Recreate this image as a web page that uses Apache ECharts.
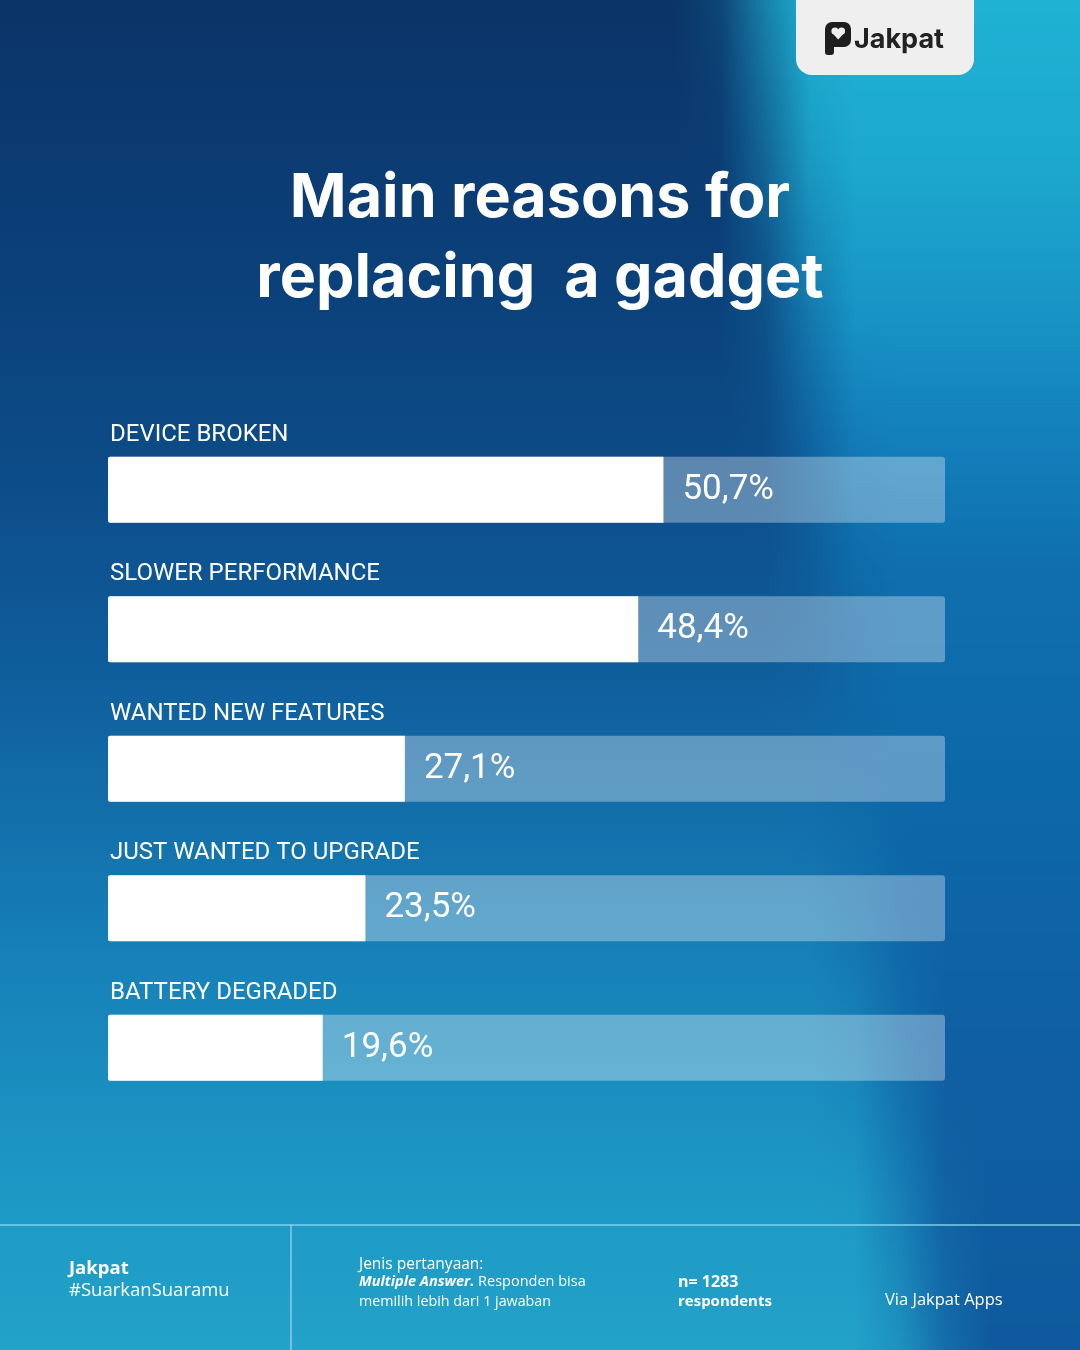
<!DOCTYPE html>
<html>
<head>
<meta charset="utf-8">
<script src="https://cdn.jsdelivr.net/npm/echarts@6/dist/echarts.min.js"></script>
<style>
html,body{margin:0;padding:0;width:1080px;height:1350px;overflow:hidden;}
#chart{width:1080px;height:1350px;}
</style>
</head>
<body>
<div id="chart"></div>
<script>
var categories = ['DEVICE BROKEN', 'SLOWER PERFORMANCE', 'WANTED NEW FEATURES', 'JUST WANTED TO UPGRADE', 'BATTERY DEGRADED'];
var values = [50.7, 48.4, 27.1, 23.5, 19.6];
var trackMax = 76.4;
var titleLines = ['Main reasons for', 'replacing  a gadget'];

var chart = echarts.init(document.getElementById('chart'));
var W = 1080, H = 1350;

function fmt(v) { return String(v.toFixed(1)).replace('.', ',') + '%'; }

// background: left column gradient + feathered right column gradient (built as thin horizontal strips)
var rightStops = [[0, [31, 178, 211]], [0.12, [28, 168, 206]], [0.22, [24, 150, 198]], [0.32, [19, 128, 188]],
  [0.42, [15, 111, 174]], [0.6, [13, 103, 168]], [0.8, [15, 95, 162]], [1, [15, 90, 158]]];
function rightColorAt(t) {
  for (var i = 1; i < rightStops.length; i++) {
    if (t <= rightStops[i][0]) {
      var a = rightStops[i - 1], b = rightStops[i], f = (t - a[0]) / (b[0] - a[0]);
      return [0, 1, 2].map(function (k) { return Math.round(a[1][k] + (b[1][k] - a[1][k]) * f); });
    }
  }
  return rightStops[rightStops.length - 1][1];
}
function edgeAt(t) { return 690 + 170 * t; }
function smooth(a) { a = Math.max(0, Math.min(1, a)); return a * a * (3 - 2 * a); }
var bg = [
  { type: 'rect', z: -10, silent: true, shape: { x: 0, y: 0, width: W, height: H },
    style: { fill: new echarts.graphic.LinearGradient(0, 0, 0, 1, [
      { offset: 0, color: '#0b3468' }, { offset: 0.2, color: '#0b4079' }, { offset: 0.35, color: '#0c4c88' },
      { offset: 0.5, color: '#0f5e9c' }, { offset: 0.7, color: '#167fb7' }, { offset: 0.88, color: '#1d98c5' },
      { offset: 1, color: '#22a2c9' }]) } }
];
var X0 = 540, SH = 5;
for (var y = 0; y < H; y += SH) {
  var t = (y + SH / 2) / H, c = rightColorAt(t), e = edgeAt(t), stops = [];
  for (var k = 0; k <= 12; k++) {
    var xx = X0 + (W - X0) * k / 12;
    stops.push({ offset: k / 12, color: 'rgba(' + c[0] + ',' + c[1] + ',' + c[2] + ',' + smooth((xx - e) / 130).toFixed(3) + ')' });
  }
  bg.push({ type: 'rect', z: -9, silent: true, shape: { x: X0, y: y, width: W - X0, height: SH },
    style: { fill: new echarts.graphic.LinearGradient(0, 0, 1, 0, stops) } });
}

var option = {
  backgroundColor: '#0d4a86',
  animation: false,
  grid: { left: 108, width: 837, top: 420, height: 697.5 },
  xAxis: { type: 'value', min: 0, max: trackMax, show: false },
  yAxis: { type: 'category', data: categories, inverse: true, show: false },
  graphic: bg.concat([
    // logo box
    { type: 'rect', z: 5, shape: { x: 796, y: -20, width: 178, height: 95, r: 16 },
      style: { fill: '#efefef' } },
    { type: 'rect', z: 6, shape: { x: 825, y: 22, width: 26, height: 25, r: 7 }, style: { fill: '#1e1e1e' } },
    { type: 'rect', z: 6, shape: { x: 825, y: 36, width: 9, height: 19, r: [0, 0, 3, 3] }, style: { fill: '#1e1e1e' } },
    { type: 'circle', z: 7, shape: { cx: 835, cy: 31, r: 3.6 }, style: { fill: '#efefef' } },
    { type: 'circle', z: 7, shape: { cx: 841.5, cy: 31, r: 3.6 }, style: { fill: '#efefef' } },
    { type: 'polygon', z: 7, shape: { points: [[831.6, 32.2], [844.9, 32.2], [838.2, 39.5]] }, style: { fill: '#efefef' } },
    { type: 'text', z: 6, style: { text: 'Jakpat', x: 854, y: 40, verticalAlign: 'middle', fill: '#222222', font: 'bold 27px Inter, sans-serif' } },
    // title
    { type: 'text', z: 3, style: { text: titleLines[0], x: 540, y: 199, align: 'center', verticalAlign: 'middle',
      fill: '#ffffff', font: 'bold 61px Inter, sans-serif' } },
    { type: 'text', z: 3, style: { text: titleLines[1], x: 540, y: 279, align: 'center', verticalAlign: 'middle',
      fill: '#ffffff', font: 'bold 61px Inter, sans-serif' } },
    // footer
    { type: 'line', z: 3, shape: { x1: 0, y1: 1225, x2: W, y2: 1225 }, style: { stroke: 'rgba(140,215,240,0.9)', lineWidth: 1.5 } },
    { type: 'line', z: 3, shape: { x1: 291, y1: 1225, x2: 291, y2: H }, style: { stroke: 'rgba(220,240,250,0.85)', lineWidth: 1 } },
    { type: 'text', z: 3, style: { text: 'Jakpat', x: 69, y: 1269, verticalAlign: 'middle', fill: '#fff', font: 'bold 18.5px "Open Sans", sans-serif' } },
    { type: 'text', z: 3, style: { text: '#SuarkanSuaramu', x: 69, y: 1291, verticalAlign: 'middle', fill: '#fff', font: '18.5px "Open Sans", sans-serif' } },
    { type: 'text', z: 3, style: { text: 'Jenis pertanyaan:', x: 359, y: 1265, verticalAlign: 'middle', fill: '#fff', font: '15.5px "Open Sans", sans-serif' } },
    { type: 'text', z: 3, style: { text: '{b|Multiple Answer.} Responden bisa', x: 359, y: 1282, verticalAlign: 'middle', fill: '#fff', font: '14.5px "Open Sans", sans-serif',
      rich: { b: { fontWeight: 'bold', fontStyle: 'italic', fontSize: 14.5, fontFamily: 'Open Sans', fill: '#fff' } } } },
    { type: 'text', z: 3, style: { text: 'memilih lebih dari 1 jawaban', x: 359, y: 1302, verticalAlign: 'middle', fill: '#fff', font: '14.3px "Open Sans", sans-serif' } },
    { type: 'text', z: 3, style: { text: 'n= 1283', x: 678, y: 1282, verticalAlign: 'middle', fill: '#fff', font: 'bold 16px "Open Sans", sans-serif' } },
    { type: 'text', z: 3, style: { text: 'respondents', x: 678, y: 1302, verticalAlign: 'middle', fill: '#fff', font: 'bold 15px "Open Sans", sans-serif' } },
    { type: 'text', z: 3, style: { text: 'Via Jakpat Apps', x: 885, y: 1300, verticalAlign: 'middle', fill: '#fff', font: '16.5px "Open Sans", sans-serif' } }
  ]),
  series: [
    {
      type: 'bar', name: 'track', barWidth: 66, silent: true,
      data: categories.map(function () { return trackMax; }),
      itemStyle: { color: 'rgba(255,255,255,0.33)', borderRadius: 3 },
      label: { show: true, position: [2, -10], align: 'left', verticalAlign: 'bottom',
        formatter: function (p) { return p.name; },
        color: '#ffffff', fontSize: 24, fontFamily: 'Roboto' },
      z: 2
    },
    {
      type: 'bar', name: 'value', barWidth: 66, barGap: '-100%', silent: true,
      data: values,
      itemStyle: { color: '#ffffff', borderRadius: [2, 0, 0, 2] },
      label: { show: true, position: 'right', distance: 19,
        formatter: function (p) { return fmt(p.value); },
        color: '#ffffff', fontSize: 35, fontFamily: 'Roboto' },
      z: 3
    }
  ]
};
chart.setOption(option);
</script>
</body>
</html>
